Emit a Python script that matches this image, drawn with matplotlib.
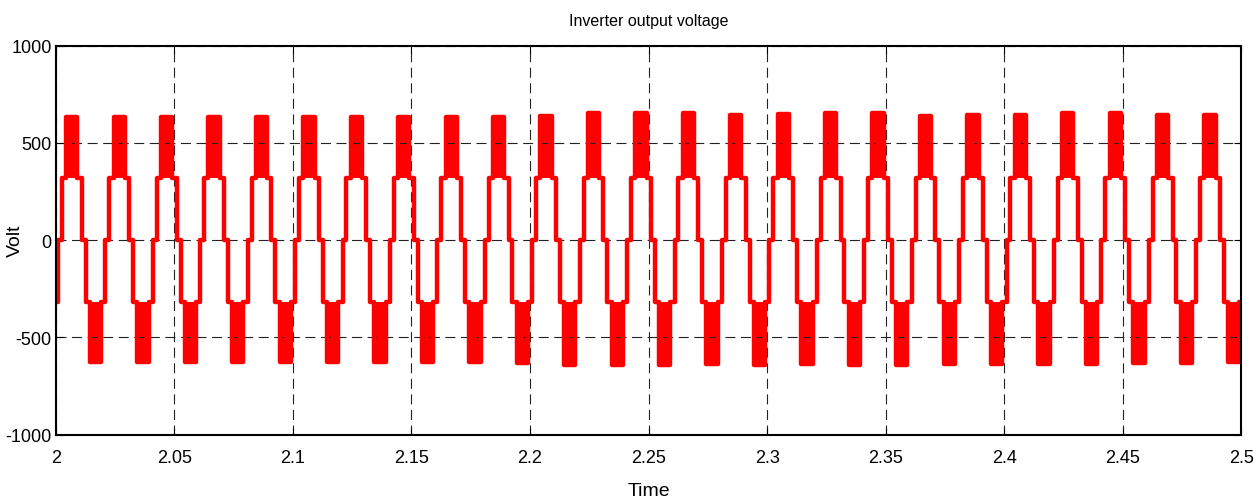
import numpy as np
import matplotlib
matplotlib.use("Agg")
import matplotlib.pyplot as plt

plt.rcParams['font.family'] = ['Liberation Sans Narrow', 'Liberation Sans', 'DejaVu Sans']

# waveform settings
f0 = 50.0                 # Hz, 25 cycles in 0.5 s
t_cross = 2.0018          # first upward zero crossing (middle of the 0 step)
step_level = 320          # first voltage step
# switching phases of one cycle (deg, relative to zero crossing)
phase_deg = [-15, 15, 47, 133, 165, 195, 227, 313, 345]

# top of each PWM block (positive and negative half cycles), cycles 0..24
pos_peak = [634, 634, 634, 634, 634, 634, 634, 634, 634, 634,
            639, 654, 654, 654, 644, 649, 654, 654, 639, 644,
            644, 654, 654, 644, 644]
neg_peak = [-628, -628, -628, -628, -628, -628, -628, -628, -628, -633,
            -643, -643, -643, -638, -643, -638, -643, -643, -638, -638,
            -638, -638, -633, -633, -628]

xticks = [2, 2.05, 2.1, 2.15, 2.2, 2.25, 2.3, 2.35, 2.4, 2.45, 2.5]
yticks = [-1000, -500, 0, 500, 1000]

# build the staircase
T = 1 / f0
t = []
v = []
peaks_p = [pos_peak[0]] + pos_peak + [pos_peak[-1]]
peaks_n = [neg_peak[0]] + neg_peak + [neg_peak[-1]]
for k in range(-1, len(pos_peak) + 1):
    s = t_cross + k * T
    P = peaks_p[k + 1]
    N = peaks_n[k + 1]
    levels = [0, step_level, P, step_level, 0, -step_level, N, -step_level]
    for ph, lv in zip(phase_deg[:-1], levels):
        t.append(s + ph / 360 * T)
        v.append(lv)
t = np.array(t)
v = np.array(v, dtype=float)

fig = plt.figure(figsize=(12.6, 5.02), dpi=100)
ax = fig.add_axes([0.0442, 0.132, 0.9410, 0.775])

red = '#ff0000'
ax.fill_between(t, step_level, np.maximum(v, step_level), step='post',
                color=red, lw=0)
ax.fill_between(t, -step_level, np.minimum(v, -step_level), step='post',
                color=red, lw=0)
ax.plot(t, v, drawstyle='steps-post', color=red, lw=3.2)

ax.set_xlim(2, 2.5)
ax.set_ylim(-1000, 1000)
ax.set_xticks(xticks)
ax.set_xticklabels(['%g' % x for x in xticks])
ax.set_yticks(yticks)
ax.set_yticklabels(['%g' % y for y in yticks])
ax.grid(True, color='#222222', linestyle=(0, (9, 5)), lw=0.8)
ax.tick_params(direction='in', top=True, right=True, labelsize=13, length=5)
ax.tick_params(axis='x', pad=10)
ax.tick_params(axis='y', pad=3)
for sp in ax.spines.values():
    sp.set_linewidth(1.5)

ax.set_title('Inverter output voltage', fontsize=11.5, pad=15)
ax.set_xlabel('Time', fontsize=14, labelpad=12)
ax.set_ylabel('Volt', fontsize=14)
ax.yaxis.set_label_coords(-0.027, 0.5)

fig.savefig('out.png', dpi=100)
